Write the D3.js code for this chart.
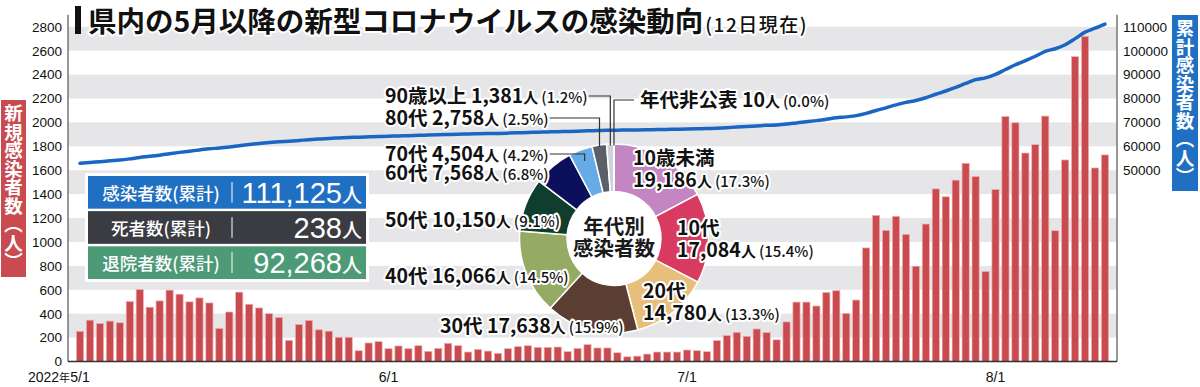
<!DOCTYPE html>
<html>
<head>
<meta charset="utf-8">
<script src="https://cdn.jsdelivr.net/npm/d3@7"></script>
<style>
  body { margin: 0; background: #fff; }
  svg { display: block; }
</style>
</head>
<body>
<div id="chart"></div>
<script>
// Daily new cases, 2022/5/1 - 8/12
const dailyCases = [
  253, 346, 318, 338, 324, 501, 603, 454, 507, 597, 563, 499, 532, 490, 276, 414,
  580, 479, 448, 400, 369, 177, 310, 344, 265, 254, 203, 203, 90, 155, 166,
  107, 130, 107, 132, 85, 110, 152, 132, 79, 101, 87, 68, 107, 124, 132,
  118, 118, 121, 82, 110, 141, 113, 113, 73, 39, 45, 62, 79, 79, 79,
  96, 90, 82, 175, 217, 244, 211, 272, 242, 181, 331, 497, 497, 464, 578, 592,
  403, 514, 950, 1222, 1097, 1214, 1064, 797, 1150, 1444, 1378, 1517, 1658, 1547, 753,
  1439, 2050, 1997, 1744, 1814, 2053, 1094, 1686, 2550, 2720, 1619, 1728
];
const cumulativeBefore = 52671;   // total up to 4/30
const startDate = new Date(2022, 4, 1);
const tickDates = [new Date(2022, 4, 1), new Date(2022, 5, 1), new Date(2022, 6, 1), new Date(2022, 7, 1)];
const tickLabels = ["5/1", "6/1", "7/1", "8/1"];
const leftTicks = d3.range(0, 2801, 200);
const rightTicks = d3.range(50000, 110001, 10000);

// age breakdown
const ageGroups = ["10歳未満", "10代", "20代", "30代", "40代", "50代", "60代", "70代", "80代", "90歳以上", "年代非公表"];
const ageCounts = [19186, 17084, 14780, 17638, 16066, 10150, 7568, 4504, 2758, 1381, 10];
const agePcts = ["17.3", "15.4", "13.3", "15.9", "14.5", "9.1", "6.8", "4.2", "2.5", "1.2", "0.0"];
const ageColors = ["#c486c2", "#d93b60", "#e8be7b", "#5b3e32", "#95ab64", "#0f3e2f", "#0c105c", "#66abe7", "#5c5f68", "#ced2d8", "#e0e0e0"];

// summary boxes
const summaryLabels = ["感染者数(累計)", "死者数(累計)", "退院者数(累計)"];
const summaryValues = [111125, 238, 92268];
const summaryColors = ["#1f6fc2", "#3b3b42", "#4d9a77"];

const width = 1200, height = 387;
const jp = "'Noto Sans CJK JP', 'Noto Sans', sans-serif";
const num = "'Liberation Sans', Arial, sans-serif";

const svg = d3.select("#chart").append("svg")
    .attr("width", width)
    .attr("height", height)
    .style("font-family", jp);

const x = d3.scaleBand()
    .domain(d3.range(dailyCases.length))
    .range([68, 1117])
    .paddingInner(0.28)
    .paddingOuter(0.85);
const y = d3.scaleLinear().domain([0, 2800]).range([361.5, 26.8]);
const yCum = d3.scaleLinear().domain([-30000, 110000]).range([361.5, 26.8]);

// grey bands
svg.append("g")
  .selectAll("rect")
  .data(d3.range(200, 2800, 400))
  .enter()
  .append("rect")
    .attr("x", 68)
    .attr("width", 1117 - 68)
    .attr("y", d => y(d + 200))
    .attr("height", d => y(d) - y(d + 200))
    .attr("fill", "#e6e6e9");

// bars
svg.append("g")
  .selectAll("rect")
  .data(dailyCases)
  .enter()
  .append("rect")
    .attr("x", (d, i) => x(i))
    .attr("width", x.bandwidth())
    .attr("y", d => y(d))
    .attr("height", d => y(0) - y(d))
    .attr("fill", "#c94a4f")
    .attr("stroke", "#eeb0b0")
    .attr("stroke-width", 0.7);

// cumulative line
const cumulative = Array.from(d3.cumsum(dailyCases), v => v + cumulativeBefore);
svg.append("path")
    .datum(cumulative)
    .attr("fill", "none")
    .attr("stroke", "#1a66c2")
    .attr("stroke-width", 3.5)
    .attr("stroke-linecap", "round")
    .attr("d", d3.line()
        .x((d, i) => x(i) + x.bandwidth() / 2)
        .y(d => yCum(d))
        .curve(d3.curveMonotoneX));

// axes
const leftAxis = svg.append("g")
    .attr("transform", "translate(68,0)")
    .call(d3.axisLeft(y).tickValues(leftTicks).tickFormat(d3.format("d")).tickSize(0).tickPadding(6));
const rightAxis = svg.append("g")
    .attr("transform", "translate(1117,0)")
    .call(d3.axisRight(yCum).tickValues(rightTicks).tickFormat(d3.format("d")).tickSize(0).tickPadding(6));
[leftAxis, rightAxis].forEach(a => {
  a.select(".domain").remove();
  a.selectAll("text")
    .attr("font-family", num)
    .attr("font-size", "13.5px")
    .attr("fill", "#111");
});
svg.append("line")
    .attr("x1", 68).attr("x2", 68)
    .attr("y1", y(2800) - 12).attr("y2", y(0))
    .attr("stroke", "#555").attr("stroke-width", 1.2);
svg.append("line")
    .attr("x1", 1117).attr("x2", 1117)
    .attr("y1", y(2800) - 12).attr("y2", y(0))
    .attr("stroke", "#555").attr("stroke-width", 1.2);
svg.append("line")
    .attr("x1", 68).attr("x2", 1117)
    .attr("y1", y(0)).attr("y2", y(0))
    .attr("stroke", "#333").attr("stroke-width", 1.6);

// date labels
svg.append("g")
  .selectAll("text")
  .data(tickDates)
  .enter()
  .append("text")
    .attr("x", d => x(d3.timeDay.count(startDate, d)) + x.bandwidth() / 2)
    .attr("y", 382)
    .attr("text-anchor", "middle")
    .attr("font-family", num)
    .attr("font-size", "14px")
    .attr("fill", "#111")
    .text((d, i) => tickLabels[i]);
svg.append("text")
    .attr("x", x(0) + x.bandwidth() / 2 - 10)
    .attr("y", 382)
    .attr("text-anchor", "end")
    .attr("font-family", num)
    .attr("font-size", "14px")
    .attr("fill", "#111")
    .text("2022")
  .append("tspan")
    .attr("font-family", jp)
    .attr("font-size", "11px")
    .text("年");

// title
svg.append("rect")
    .attr("x", 75).attr("y", 6)
    .attr("width", 6).attr("height", 28)
    .attr("fill", "#111");
const title = svg.append("text")
    .attr("x", 88)
    .attr("y", 32)
    .attr("fill", "#111")
    .attr("stroke", "#fff")
    .attr("stroke-width", 4)
    .attr("stroke-linejoin", "round")
    .attr("paint-order", "stroke")
    .attr("font-weight", 700)
    .attr("font-size", "28.5px")
    .text("県内の5月以降の新型コロナウイルスの感染動向");
title.append("tspan")
    .attr("font-size", "19px")
    .attr("font-weight", 500)
    .attr("letter-spacing", 1.5)
    .attr("dx", 2)
    .text("(12日現在)");

// side labels
svg.append("rect")
    .attr("x", 1).attr("y", 100)
    .attr("width", 25).attr("height", 177)
    .attr("fill", "#c94a4f");
svg.append("text")
    .attr("x", 13.5).attr("y", 104)
    .attr("writing-mode", "vertical-rl")
    .attr("fill", "#fff")
    .attr("font-size", "18.5px")
    .attr("font-weight", 700)
    .text("新規感染者数（人）");
svg.append("rect")
    .attr("x", 1172).attr("y", 15)
    .attr("width", 26).attr("height", 176)
    .attr("fill", "#1f6fc2");
svg.append("text")
    .attr("x", 1185).attr("y", 19)
    .attr("writing-mode", "vertical-rl")
    .attr("fill", "#fff")
    .attr("font-size", "18.5px")
    .attr("font-weight", 700)
    .text("累計感染者数（人）");

// donut
const cx = 614, cy = 238.5, outerR = 94.5, innerR = 47;
const pie = d3.pie().sort(null).value(d => d);
const arcs = pie(ageCounts);
const arc = d3.arc().innerRadius(innerR).outerRadius(outerR);
const donut = svg.append("g").attr("transform", `translate(${cx},${cy})`);
donut.selectAll("path")
  .data(arcs)
  .enter()
  .append("path")
    .attr("d", arc)
    .attr("fill", (d, i) => ageColors[i])
    .attr("stroke", "#fff")
    .attr("stroke-width", 1.5);
donut.append("circle").attr("r", innerR - 0.5).attr("fill", "#fff");
donut.append("text")
    .attr("y", -5)
    .attr("text-anchor", "middle")
    .attr("font-size", "20.5px")
    .attr("font-weight", 700)
    .attr("fill", "#1a1a1a")
    .text("年代別");
donut.append("text")
    .attr("y", 17)
    .attr("text-anchor", "middle")
    .attr("font-size", "20.5px")
    .attr("font-weight", 700)
    .attr("fill", "#1a1a1a")
    .text("感染者数");

// age labels
const labelLayout = [
  { x: 633, y: 165, two: true },
  { x: 677, y: 235, two: true },
  { x: 643, y: 298, two: true },
  { x: 440, y: 333 },
  { x: 385, y: 283 },
  { x: 385, y: 227 },
  { x: 385, y: 180 },
  { x: 385, y: 161, r: 83 },
  { x: 385, y: 125, r: 93 },
  { x: 385, y: 103, r: 93 },
  { x: 640, y: 107, r: 93, left: true }
];
const labels = svg.append("g")
    .attr("fill", "#111")
    .attr("stroke", "#fff")
    .attr("stroke-width", 4)
    .attr("stroke-linejoin", "round")
    .attr("paint-order", "stroke")
    .attr("font-weight", 700);

function countSpans(t, i) {
  t.append("tspan").attr("font-size", "19.5px").text(d3.format(",")(ageCounts[i]));
  t.append("tspan").attr("font-size", "15px").text("人");
  t.append("tspan").attr("font-size", "15px").attr("font-weight", 500).attr("dx", 3).text(`(${agePcts[i]}%)`);
}
const leaderG = svg.append("g")
    .attr("fill", "none")
    .attr("stroke", "#333")
    .attr("stroke-width", 1.2);

labelLayout.forEach((L, i) => {
  const t = labels.append("text").attr("x", L.x).attr("y", L.y);
  if (L.two) {
    t.append("tspan").attr("font-size", "19.5px").text(ageGroups[i]);
    countSpans(labels.append("text").attr("x", L.x).attr("y", L.y + 22), i);
  } else {
    t.append("tspan").attr("font-size", "19.5px").text(ageGroups[i] + " ");
    countSpans(t, i);
  }
  if (L.r) {
    const a = (arcs[i].startAngle + arcs[i].endAngle) / 2;
    const px = cx + L.r * Math.sin(a), py = cy - L.r * Math.cos(a);
    const b = t.node().getBBox();
    const my = L.y - 7;
    const sx = L.left ? L.x - 6 : b.x + b.width + 1;
    leaderG.append("path").attr("d", `M${sx},${my}H${px}V${py}`);
  }
});
leaderG.raise();

// summary boxes
const row = d3.scaleBand().domain(d3.range(3)).range([176, 279]).paddingInner(0.07);
svg.append("rect")
    .attr("x", 85).attr("y", 173)
    .attr("width", 284).attr("height", 109)
    .attr("fill", "#fff");
const rows = svg.append("g")
  .selectAll("g")
  .data(summaryValues)
  .enter()
  .append("g")
    .attr("transform", (d, i) => `translate(88,${row(i)})`);
rows.append("rect")
    .attr("width", 278)
    .attr("height", row.bandwidth())
    .attr("fill", (d, i) => summaryColors[i]);
rows.append("text")
    .attr("x", 73)
    .attr("y", 24)
    .attr("text-anchor", "middle")
    .attr("fill", "#fff")
    .attr("font-size", "17.5px")
    .attr("font-weight", 500)
    .text((d, i) => summaryLabels[i]);
rows.append("line")
    .attr("x1", 144).attr("x2", 144)
    .attr("y1", 6).attr("y2", row.bandwidth() - 6)
    .attr("stroke", "#fff")
    .attr("stroke-width", 1);
const vals = rows.append("text")
    .attr("x", 274)
    .attr("y", 27)
    .attr("text-anchor", "end")
    .attr("fill", "#fff");
vals.append("tspan")
    .attr("font-family", num)
    .attr("font-size", "29px")
    .text(d => d3.format(",")(d));
vals.append("tspan")
    .attr("font-size", "20px")
    .attr("font-weight", 500)
    .text("人");
</script>
</body>
</html>
